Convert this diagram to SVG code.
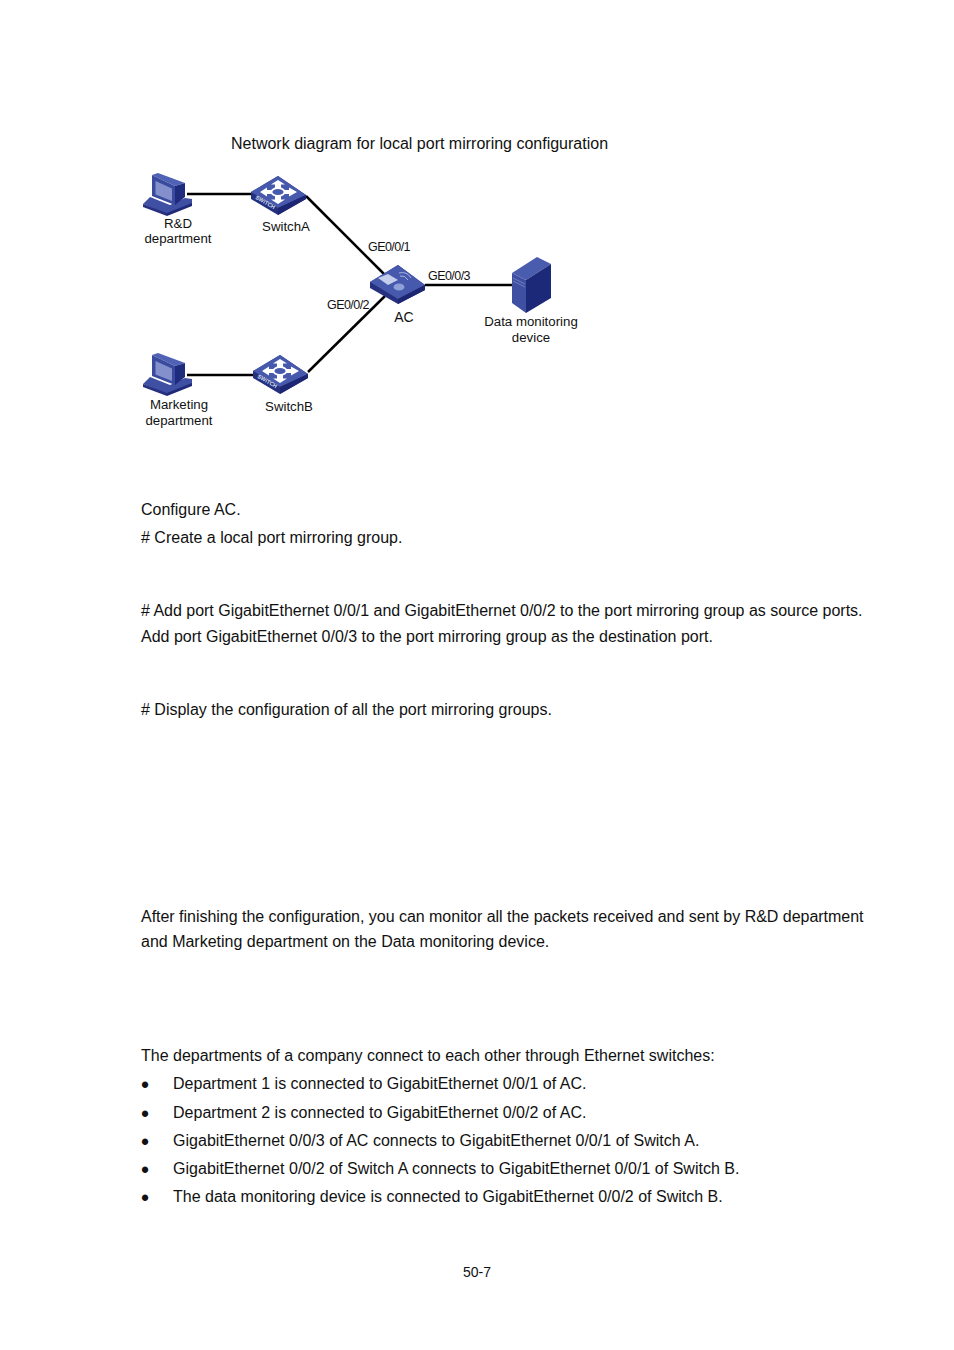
<svg xmlns="http://www.w3.org/2000/svg" width="954" height="1350" viewBox="0 0 954 1350">
<style>
text{font-family:"Liberation Sans",Arial,sans-serif;fill:#111}
.b{font-size:16px}
.d{font-size:23px}
.l{font-size:13.25px;text-anchor:middle}
.p{font-size:12.5px;letter-spacing:-.55px}
.c{stroke:#000;stroke-width:2.5;fill:none}
.st{font-size:5.5px;font-weight:bold;fill:#dfe4f5}
</style>
<defs>
<g id="pc">
<path d="M143 204 L150 197 L170 205 L185 198 L192 199 L192 205 L167 214Z" fill="#3f4fa4"/>
<path d="M143 204 L167 213 L167 216 L143 207Z" fill="#26307f"/>
<path d="M167 213 L192 203 L192 206 L167 216Z" fill="#1e2a78"/>
<path d="M152 175 L158 173 L185 183 L175 186Z" fill="#5062b6"/>
<path d="M152 175 L175 186 L175 205 L152 196Z" fill="#3a4a9e"/>
<path d="M155.5 181 L172 188.5 L172 201 L155.5 194.5Z" fill="#8390cc"/>
<path d="M175 186 L185 183 L185 197 L175 205Z" fill="#1f2b7c"/>
</g>
<g id="sw">
<path d="M0 0 L27 -16 L55 3 L55 7 L27 23 L0 7Z" fill="#25317f"/>
<path d="M0 0 L27 -16 L55 3 L27 16Z" fill="#4759ac"/>
<path d="M27 16 L55 3 L55 7 L27 23Z" fill="#1c2672"/>
<path d="M9 0 L16 -4.5 L16 -2 L38 -2 L38 -4.5 L46 0 L38 4.5 L38 2 L16 2 L16 4.5Z" fill="#fff"/>
<path d="M27 -12 L34 -7.5 L30 -7.5 L30 7.5 L34 7.5 L27 12 L20 7.5 L24 7.5 L24 -7.5 L20 -7.5Z" fill="#fff"/>
<ellipse cx="27" cy="0" rx="6.5" ry="4" fill="#4759ac" stroke="#fff" stroke-width="1.8"/>
<text class="st" transform="translate(4 6.5) rotate(30)">SWITCH</text>
</g>
</defs>
<g id="connectors">
<path class="c" d="M187 194H251"/>
<path class="c" d="M306 196L384 274"/>
<path class="c" d="M425 285H512"/>
<path class="c" d="M385 296L308 372"/>
<path class="c" d="M187 375H254"/>
</g>
<g id="node-rd"><use href="#pc"/><text class="l" x="178" y="228">R&amp;D</text><text class="l" x="178" y="243">department</text></g>
<g id="node-switcha"><use href="#sw" x="251" y="192"/><text class="l" x="286" y="231">SwitchA</text></g>
<g id="node-ac">
<path d="M370 282 L398 265 L425 285 L425 290 L398 304 L370 288Z" fill="#25317f"/>
<path d="M370 282 L398 265 L425 285 L398 299Z" fill="#4759ac"/>
<path d="M398 299 L425 285 L425 290 L398 304Z" fill="#1c2672"/>
<path d="M378 278 L388 274 L398 280 L388 285Z" fill="#c4cdea"/>
<ellipse cx="399" cy="287" rx="5.5" ry="3.5" fill="#8fa0d8"/>
<path d="M400 276 Q405 275 408 280 M399 273 Q407 271 411 278" stroke="#aab4e0" fill="none"/>
<text class="l" x="404" y="322" style="font-size:14px">AC</text></g>
<g id="node-monitor">
<path d="M512 273 L526 280 L526 313 L512 303Z" fill="#3f50a2"/>
<path d="M512 273 L537 257 L551 264 L526 280Z" fill="#4a5cae"/>
<path d="M526 280 L551 264 L551 298 L526 313Z" fill="#1c2878"/>
<path d="M513 278 L525 284 M513 281 L525 287" stroke="#6f7fc0" fill="none"/>
<text class="l" x="531" y="326">Data monitoring</text><text class="l" x="531" y="342">device</text></g>
<g id="node-switchb"><use href="#sw" x="253" y="371"/><text class="l" x="289" y="411">SwitchB</text></g>
<g id="node-marketing"><use href="#pc" y="180"/><text class="l" x="179" y="409">Marketing</text><text class="l" x="179" y="425">department</text></g>
<g id="port-labels">
<text class="p" x="368" y="251">GE0/0/1</text>
<text class="p" x="428" y="280">GE0/0/3</text>
<text class="p" x="327" y="309">GE0/0/2</text>
</g>
<g id="body" class="b">
<text class="b" x="231" y="149">Network diagram for local port mirroring configuration</text>
<text class="b" x="141" y="515">Configure AC.</text>
<text class="b" x="141" y="543"># Create a local port mirroring group.</text>
<text class="b" x="141" y="616" textLength="721.5"># Add port GigabitEthernet 0/0/1 and GigabitEthernet 0/0/2 to the port mirroring group as source ports.</text>
<text class="b" x="141" y="642">Add port GigabitEthernet 0/0/3 to the port mirroring group as the destination port.</text>
<text class="b" x="141" y="715"># Display the configuration of all the port mirroring groups.</text>
<text class="b" x="141" y="922" textLength="722.5">After finishing the configuration, you can monitor all the packets received and sent by R&amp;D department</text>
<text class="b" x="141" y="947">and Marketing department on the Data monitoring device.</text>
<text class="b" x="141" y="1061">The departments of a company connect to each other through Ethernet switches:</text>
<text class="d" x="141" y="1093">•</text><text class="b" x="173" y="1089" textLength="413.5">Department 1 is connected to GigabitEthernet 0/0/1 of AC.</text>
<text class="d" x="141" y="1122">•</text><text class="b" x="173" y="1118" textLength="413.5">Department 2 is connected to GigabitEthernet 0/0/2 of AC.</text>
<text class="d" x="141" y="1150">•</text><text class="b" x="173" y="1146" textLength="526.5">GigabitEthernet 0/0/3 of AC connects to GigabitEthernet 0/0/1 of Switch A.</text>
<text class="d" x="141" y="1178">•</text><text class="b" x="173" y="1174" textLength="566.5">GigabitEthernet 0/0/2 of Switch A connects to GigabitEthernet 0/0/1 of Switch B.</text>
<text class="d" x="141" y="1206">•</text><text class="b" x="173" y="1202">The data monitoring device is connected to GigabitEthernet 0/0/2 of Switch B.</text>
<text x="477" y="1277" text-anchor="middle" style="font-size:14px">50-7</text>
</g>
</svg>
